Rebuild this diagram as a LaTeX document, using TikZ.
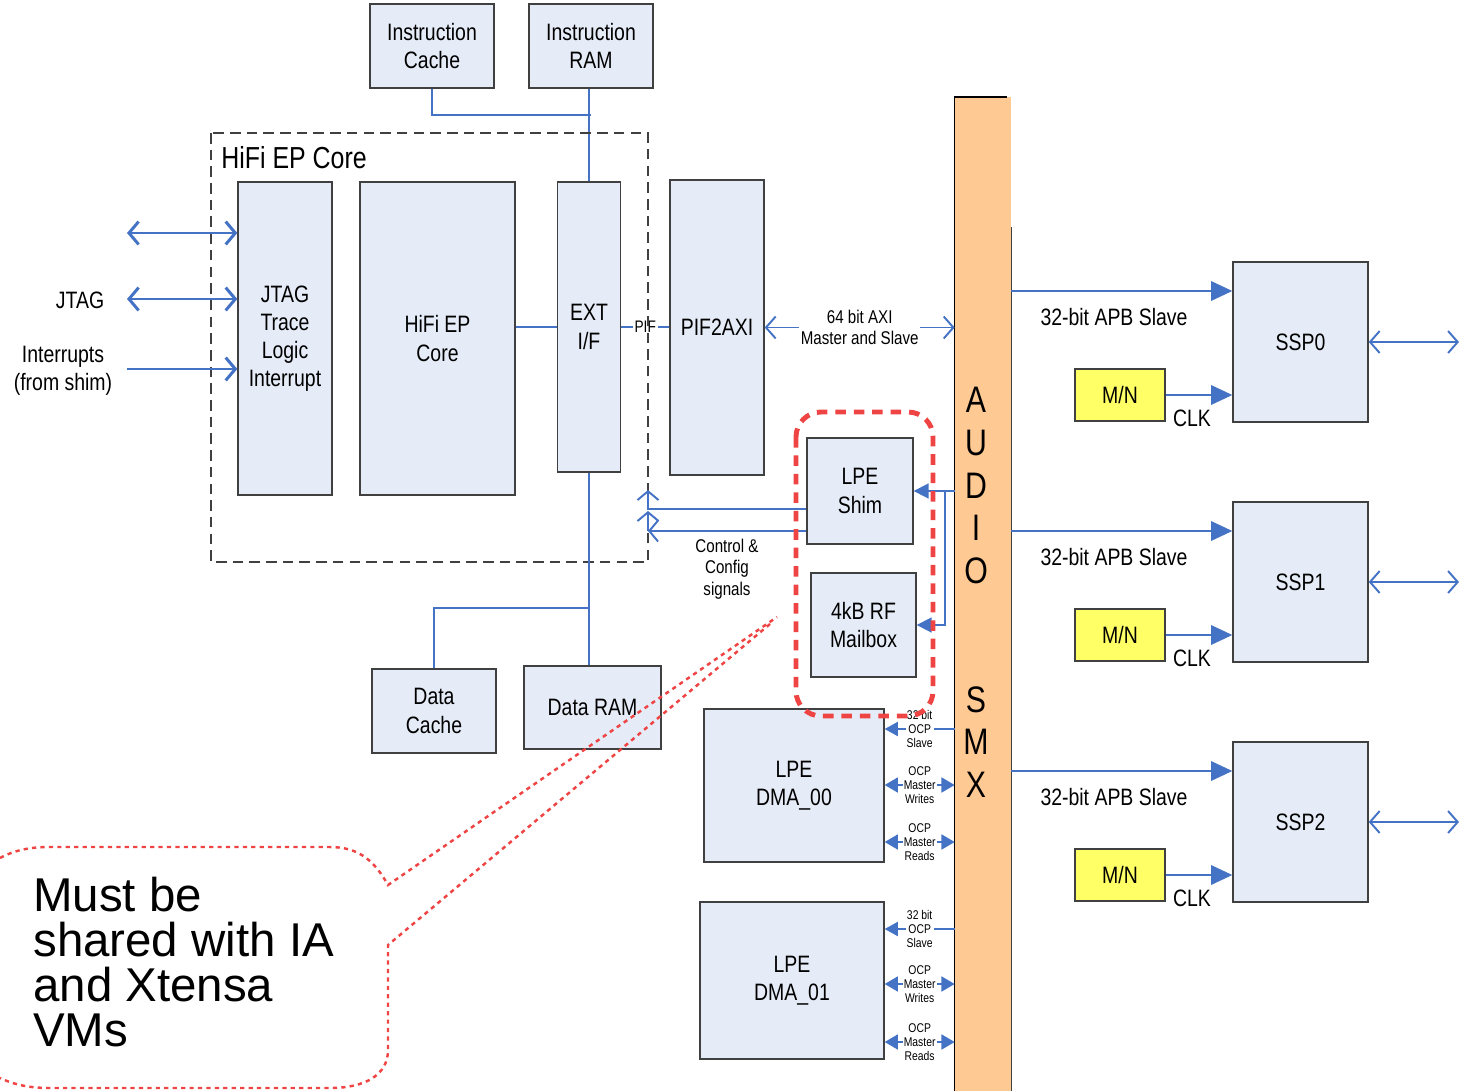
\documentclass[tikz,border=0pt]{standalone}
\usepackage{fontspec}
\setmainfont{Liberation Sans}
\newfontfamily\narrowsf{Liberation Sans}[FakeStretch=0.82]
\usetikzlibrary{arrows.meta}

\begin{document}
\begin{tikzpicture}[
    x=0.02cm, y=-0.02cm,
    every node/.style={font=\narrowsf\fontsize{13.5}{16}\selectfont,
                       align=center, inner sep=0pt},
]

% ---------------------------------------------------------------- colours
\definecolor{boxfill}{HTML}{E6ECF7}   % every block
\definecolor{boxline}{HTML}{404040}
\definecolor{busblue}{HTML}{4472C4}   % all the wires
\definecolor{smxorange}{HTML}{FFC993} % the audio SMX bar
\definecolor{mnyellow}{HTML}{FFFF66}
\definecolor{notered}{HTML}{EE4444}   % the shared part and its note

\tikzset{
    block/.style={rectangle, draw=boxline, line width=0.8pt, fill=boxfill},
    mnbox/.style={rectangle, draw=boxline, line width=0.8pt, fill=mnyellow,
                  minimum width=1.8cm, minimum height=1.04cm},
    bus/.style={draw=busblue, line width=1.1pt},
    barb/.style={bus, -{Straight Barb[length=5pt, width=12pt]}},
    barbboth/.style={bus, {Straight Barb[length=5.5pt, width=12.5pt]}-{Straight Barb[length=5.5pt, width=12.5pt]}},
    jbarb/.style={bus, line width=1.7pt, -{Straight Barb[length=5.5pt, width=13pt]}},
    jbarbboth/.style={bus, line width=1.7pt,
                      {Straight Barb[length=5.5pt, width=13pt]}-{Straight Barb[length=5.5pt, width=13pt]}},
    tri/.style={bus, -{Triangle[length=12pt, width=11pt]}},
    shimtip/.style={bus, -{Triangle[length=8.5pt, width=8.5pt]}},
    ocpin/.style={bus, -{Triangle[length=7.5pt, width=8pt]}},
    ocpboth/.style={bus, {Triangle[length=7.5pt, width=8.5pt]}-{Triangle[length=7.5pt, width=8.5pt]}},
    ocplbl/.style={fill=white, inner sep=0.6pt,
                   font=\narrowsf\fontsize{7.2}{8.1}\selectfont},
    smalllbl/.style={font=\narrowsf\fontsize{10.5}{12.3}\selectfont},
    smxletter/.style={font=\narrowsf\fontsize{21}{21}\selectfont},
    corebox/.style={draw=boxline, line width=0.7pt, dash pattern=on 6pt off 3.5pt},
    shared/.style={draw=notered, line width=2.8pt, dash pattern=on 6pt off 4.5pt,
                   rounded corners=0.5cm},
    callout/.style={draw=notered, line width=1.4pt, dash pattern=on 2.4pt off 2.4pt},
}

\useasboundingbox (0,0) rectangle (1466,1091);

% ---------------------------------------------------------------- instruction side
\node[block, minimum width=2.48cm, minimum height=1.68cm] (icache) at (432,46)
    {Instruction\\Cache};
\node[block, minimum width=2.48cm, minimum height=1.68cm] (iram) at (591,46)
    {Instruction\\RAM};

% ---------------------------------------------------------------- the core
\node[block, minimum width=1.88cm, minimum height=6.26cm] (jtl) at (285,338.5)
    {JTAG\\Trace\\Logic\\Interrupt};
\node[block, minimum width=3.1cm, minimum height=6.26cm] (hifi) at (437.5,338.5)
    {HiFi EP\\Core};
\node[block, minimum width=1.26cm, minimum height=5.8cm] (extif) at (589,327)
    {EXT\\I/F};
\node[block, minimum width=1.88cm, minimum height=5.9cm] (pif) at (717,327.5)
    {PIF2AXI};

\draw[bus] (icache.south) |- (iram.south |- 0,115);
\draw[bus] (iram.south -| extif.north) -- (extif.north);
\draw[bus] (hifi.east |- extif.west) -- (extif.west);
\draw[bus] (extif.east) -- node[fill=white, inner sep=1pt,
    font=\narrowsf\fontsize{9.5}{11}\selectfont] (piflbl) {PIF} (pif.west |- extif.east);

\draw[corebox] (211,133) rectangle (648,562);
\node[anchor=west, font=\narrowsf\fontsize{17.3}{18}\selectfont] (corelbl) at (221,158)
    {HiFi EP Core};

% ---------------------------------------------------------------- outside the core, left
\coordinate (lin1) at (127,233);
\coordinate (lin2) at (127,299);
\coordinate (lin3) at (127,369);
\draw[jbarbboth] (lin1) -- (jtl.west |- lin1);
\draw[jbarbboth] (lin2) -- (jtl.west |- lin2);
\draw[jbarb] (lin3) -- (jtl.west |- lin3);
\node (jtaglbl) at (80,300) {JTAG};
\node (irqlbl) at (63,371) {Interrupts\\(from shim)};

% ---------------------------------------------------------------- data side
\node[block, minimum width=2.48cm, minimum height=1.68cm] (dcache) at (434,711)
    {Data\\Cache};
\node[block, minimum width=2.74cm, minimum height=1.66cm] (dram) at (592.5,707.5)
    {Data RAM};
\draw[bus] (extif.south) -- (extif.south |- dram.north);
\draw[bus] (extif.south |- 0,608) -| (dcache.north);

% ---------------------------------------------------------------- the audio SMX
\node[fill=smxorange, minimum width=1.12cm, minimum height=19.88cm] (smx) at (983,594) {};
\draw[black, line width=0.9pt] (smx.south west) -- (smx.north west)
    -- ([xshift=-0.08cm]smx.north east);
\draw[boxline, line width=0.9pt] (smx.east |- 0,227) -- (smx.south east);
\foreach \c/\y in {A/400, U/443, D/486, I/528, O/571, S/700, M/742, X/785}
    \node[smxletter] (letter\c) at (976,\y) {\c};

\draw[barbboth] (pif.east) -- node[fill=white, inner sep=1pt, smalllbl] (axilbl)
    {64 bit AXI\\Master and Slave} (smx.west |- pif.east);

% ---------------------------------------------------------------- LPE blocks
\node[block, minimum width=2.12cm, minimum height=2.12cm] (shim) at (860,491)
    {LPE\\Shim};
\node[block, minimum width=2.1cm, minimum height=2.08cm] (mbox) at (863.5,625)
    {4kB RF\\Mailbox};
\node[block, minimum width=3.6cm, minimum height=3.06cm] (dma0) at (794,785.5)
    {LPE\\DMA\_00};
\node[block, minimum width=3.68cm, minimum height=3.14cm] (dma1) at (792,980.5)
    {LPE\\DMA\_01};

\coordinate (tap) at (945,491);
\draw[shimtip] (smx.west |- shim.east) -- (shim.east);
\draw[shimtip] (tap) |- (mbox.east);

% control and config back into the core
\coordinate (cc1) at (648,490);
\coordinate (cc2) at (648,531);
\draw[barb] (shim.west |- 0,509) -| (cc1);
\draw[barb] (shim.west |- cc2) -- (cc2);
\draw[barb] (cc2) -- (648,511);
\node[smalllbl] (ctrllbl) at (727,569) {Control \&\\Config\\signals};

% OCP ports of the two DMAs
\foreach \d/\ys/\yw/\yr in {dma0/729/785/842, dma1/929/984/1042} {
    \draw[ocpin] (smx.west |- 0,\ys) -- node[ocplbl] (slave-\d)
        {32 bit\\OCP\\Slave} (\d.east |- 0,\ys);
    \draw[ocpboth] (\d.east |- 0,\yw) -- node[ocplbl] (writes-\d)
        {OCP\\Master\\Writes} (smx.west |- 0,\yw);
    \draw[ocpboth] (\d.east |- 0,\yr) -- node[ocplbl] (reads-\d)
        {OCP\\Master\\Reads} (smx.west |- 0,\yr);
}

\draw[shared] (796,412) rectangle (933,716);

% ---------------------------------------------------------------- SSP ports
\foreach \i/\o in {0/0, 1/240, 2/480} {
    \node[block, minimum width=2.7cm, minimum height=3.2cm] (ssp\i) at (1300.5,342+\o)
        {SSP\i};
    \node[mnbox] (mn\i) at (1120,395+\o) {M/N};
    \coordinate (apb\i) at (1233,291+\o);
    \coordinate (out\i) at (1459,342+\o);
    \draw[tri] (smx.east |- apb\i) -- (ssp\i.west |- apb\i);
    \node (apblbl\i) at (1114,317+\o) {32-bit APB Slave};
    \draw[tri] (mn\i.east) -- (ssp\i.west |- mn\i.east);
    \node (clk\i) at (1192,418+\o) {CLK};
    \draw[barbboth] (ssp\i.east) -- (out\i);
}

% ---------------------------------------------------------------- the note
\coordinate (tipA) at (777,617);
\coordinate (tipB) at (770,624);
\draw[callout] (0,858) .. controls (15,850) and (30,847) .. (50,847) -- (330,847)
    .. controls (360,847) and (375,862) .. (388,885) -- (tipA)
    (tipB) -- (388,945) -- (388,1050)
    .. controls (388,1075) and (365,1088) .. (330,1088) -- (50,1088)
    .. controls (30,1088) and (15,1085) .. (0,1078);
\node[anchor=west, align=left, font=\fontsize{27}{25.5}\selectfont] (note) at (33,962)
    {Must be\\shared with IA\\and Xtensa\\VMs};

\end{tikzpicture}
\end{document}
